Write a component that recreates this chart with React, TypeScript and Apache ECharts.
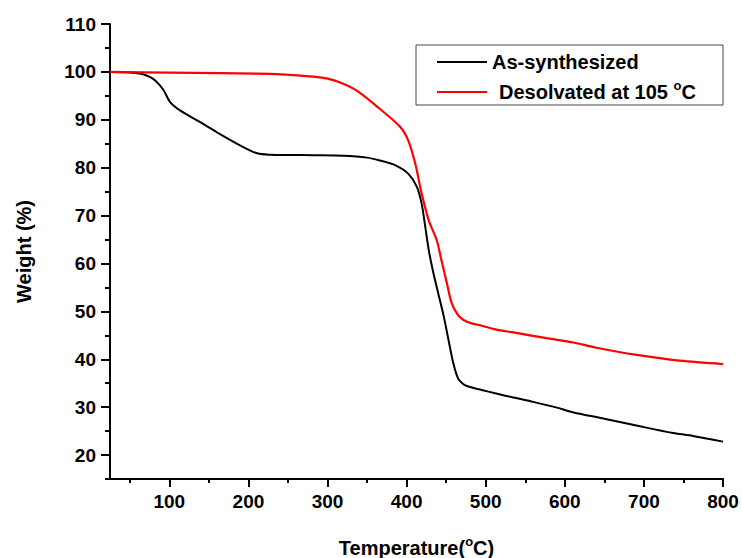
import React, { useEffect, useRef } from "react";
import * as echarts from "echarts";

const tempAs = [25, 45, 64, 72, 80, 87, 93, 101, 114, 139, 160, 190, 211, 228, 250, 282, 320, 350, 366, 386, 402, 413, 419, 423, 428, 434, 440, 447, 453, 459, 465, 471, 478, 495, 512, 535, 560, 590, 611, 650, 695, 737, 762, 800];
const weightAs = [100, 99.95, 99.6, 99.2, 98.5, 97.4, 96.1, 93.7, 91.9, 89.5, 87.4, 84.6, 83.0, 82.7, 82.65, 82.6, 82.5, 82.1, 81.5, 80.5, 78.75, 76.0, 72.5, 68.3, 62.8, 57.9, 53.75, 48.9, 44.0, 39.2, 36.0, 34.9, 34.3, 33.6, 32.9, 32.0, 31.1, 29.9, 28.9, 27.6, 26.0, 24.6, 24.0, 22.8];

const tempDe = [25, 100, 228, 250, 282, 300, 316, 337, 366, 392, 402, 411, 419, 428, 438, 444, 451, 457, 465, 472, 482, 493, 512, 535, 577, 611, 640, 691, 745, 800];
const weightDe = [100, 99.85, 99.6, 99.4, 99.0, 98.6, 97.8, 96.1, 92.3, 88.5, 85.7, 80.8, 74.6, 69.0, 64.9, 60.7, 55.8, 51.7, 49.2, 48.2, 47.5, 47.1, 46.25, 45.6, 44.4, 43.5, 42.4, 40.9, 39.7, 39.0];

const xMajor = [100, 200, 300, 400, 500, 600, 700, 800];
const xMinor = [50, 150, 250, 350, 450, 550, 650, 750];
const yMajor = [20, 30, 40, 50, 60, 70, 80, 90, 100, 110];
const yMinor = [15, 25, 35, 45, 55, 65, 75, 85, 95, 105];

const seriesNames = ["As-synthesized", "Desolvated at 105 "];

const FONT = "'Liberation Sans', Arial, sans-serif";

export default function App() {
  const ref = useRef<HTMLDivElement>(null);
  useEffect(() => {
    if (!ref.current) return;
    const chart = echarts.init(ref.current, null, { renderer: "svg" });
    const labelStyle = { fontFamily: FONT, fontWeight: "bold", fontSize: 19, color: "#000" };
    const axisLineStyle = { lineStyle: { color: "#000", width: 2 } };
    const grid = { left: 110, right: 19, top: 24, bottom: 79, outerBoundsMode: "none", containLabel: false };
    const supRich = {
      a: { fontFamily: FONT, fontWeight: "bold", fontSize: 20, lineHeight: 26, color: "#000", fill: "#000" },
      s: { fontFamily: FONT, fontWeight: "bold", fontSize: 13, lineHeight: 13, color: "#000", fill: "#000", verticalAlign: "top" },
    };
    chart.setOption({
      animation: false,
      backgroundColor: "#fff",
      grid,
      xAxis: [
        {
          type: "value",
          min: 25,
          max: 800,
          position: "bottom",
          axisLine: { show: true, onZero: false, ...axisLineStyle },
          axisTick: { show: true, inside: false, length: 8, customValues: xMajor, lineStyle: { color: "#000", width: 2 } },
          axisLabel: { ...labelStyle, margin: 13, customValues: xMajor },
          splitLine: { show: false },
          name: "{a|Temperature(}{s|o}{a|C)}",
          nameLocation: "middle",
          nameGap: 56,
          nameTextStyle: {
            fontFamily: FONT,
            fontWeight: "bold",
            fontSize: 20,
            color: "#000",
            rich: supRich,
          },
        },
        {
          type: "value",
          min: 25,
          max: 800,
          position: "bottom",
          axisLine: { show: false, onZero: false },
          axisTick: { show: true, inside: false, length: 4, customValues: xMinor, lineStyle: { color: "#000", width: 2 } },
          axisLabel: { show: false },
          splitLine: { show: false },
        },
      ],
      yAxis: [
        {
          type: "value",
          min: 15,
          max: 110,
          position: "left",
          axisLine: { show: true, onZero: false, ...axisLineStyle },
          axisTick: { show: true, inside: false, length: 9, customValues: yMajor, lineStyle: { color: "#000", width: 2 } },
          axisLabel: { ...labelStyle, margin: 14, customValues: yMajor },
          splitLine: { show: false },
          name: "Weight (%)",
          nameLocation: "middle",
          nameGap: 76,
          nameRotate: 90,
          nameTextStyle: { fontFamily: FONT, fontWeight: "bold", fontSize: 20, color: "#000" },
        },
        {
          type: "value",
          min: 15,
          max: 110,
          position: "left",
          axisLine: { show: false, onZero: false },
          axisTick: { show: true, inside: false, length: 5, customValues: yMinor, lineStyle: { color: "#000", width: 2 } },
          axisLabel: { show: false },
          splitLine: { show: false },
        },
      ],
      series: [
        {
          name: seriesNames[0],
          type: "line",
          data: tempAs.map((t, i) => [t, weightAs[i]]),
          smooth: 0.3,
          showSymbol: false,
          lineStyle: { color: "#000", width: 2 },
          itemStyle: { color: "#000" },
        },
        {
          name: seriesNames[1],
          type: "line",
          data: tempDe.map((t, i) => [t, weightDe[i]]),
          smooth: 0.3,
          showSymbol: false,
          lineStyle: { color: "#ff0000", width: 2.2 },
          itemStyle: { color: "#ff0000" },
        },
      ],
      graphic: [
        {
          type: "rect",
          shape: { x: 416, y: 45, width: 307, height: 60 },
          style: { fill: "#fff", stroke: "#444", lineWidth: 1 },
          z: 10,
        },
        {
          type: "line",
          shape: { x1: 437, y1: 62, x2: 487, y2: 62 },
          style: { stroke: "#000", lineWidth: 2 },
          z: 11,
        },
        {
          type: "line",
          shape: { x1: 437, y1: 92, x2: 487, y2: 92 },
          style: { stroke: "#ff0000", lineWidth: 2 },
          z: 11,
        },
        {
          type: "text",
          x: 492,
          y: 62,
          z: 11,
          style: {
            text: seriesNames[0],
            fontFamily: FONT,
            fontWeight: "bold",
            fontSize: 20,
            fill: "#000",
            verticalAlign: "middle",
          },
        },
        {
          type: "text",
          x: 499,
          y: 92,
          z: 11,
          style: {
            text: "{a|" + seriesNames[1] + "}{s|o}{a|C}",
            verticalAlign: "middle",
            rich: supRich,
          },
        },
      ],
    });
    return () => chart.dispose();
  }, []);
  return <div ref={ref} style={{ position: "absolute", left: 0, top: 0, width: 742, height: 558 }} />;
}
